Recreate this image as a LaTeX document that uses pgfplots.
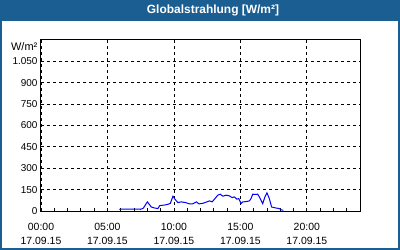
\documentclass[border=0pt]{standalone}
\usepackage{fontspec}
\setmainfont{Liberation Sans}
\usepackage{pgfplots}
\pgfplotsset{compat=1.18}
\definecolor{bar}{RGB}{27,94,146}
\begin{document}
\begin{tikzpicture}[x=1bp,y=1bp]
\fill[bar] (0,0) rectangle (400,250);
\fill[white] (2,2) rectangle (398,229);
\node[text=white, font=\fontsize{12}{14}\selectfont\bfseries] at (213,239.5) {Globalstrahlung [W/m²]};
\node[anchor=east, font=\fontsize{11}{12}\selectfont, inner sep=0pt] at (37.5,203) {W/m²};
\begin{axis}[at={(41bp,39bp)}, anchor=south west, scale only axis,
  width=319bp, height=171bp,
  xmin=0, xmax=24, ymin=0, ymax=1200,
  axis line style={black, line width=1bp},
  grid=major,
  major grid style={black, line width=0.8bp, dash pattern=on 3bp off 3bp},
  xtick={0,5,10,15,20},
  minor xtick={1,2,3,4,6,7,8,9,11,12,13,14,16,17,18,19,21,22,23},
  xticklabels={{00:00\\17.09.15},{05:00\\17.09.15},{10:00\\17.09.15},{15:00\\17.09.15},{20:00\\17.09.15}},
  xticklabel style={align=center, font=\fontsize{10.5}{14}\selectfont, yshift=-9bp},
  ytick={0,150,300,450,600,750,900,1050},
  yticklabels={0,150,300,450,600,750,900,{1.050}},
  yticklabel style={font=\fontsize{10}{12}\selectfont},
  /pgf/number format/assume math mode=true,
  tick style={black, line width=0.8bp},
  tick align=inside,
  major tick length=3bp, minor tick length=3bp,
  xtick pos=bottom, ytick pos=left,
]
\addplot[color={rgb,255:red,0;green,0;blue,255}, line width=1bp] coordinates {
(5.9,12)(6.5,14)(7.3,14)(7.5,12)(7.7,20)(8.0,64)(8.3,28)(8.55,21)(8.8,17)(8.93,38)(9.3,42)(9.55,47)(9.73,54)(9.93,104)(10.1,80)(10.3,59)(10.55,64)(10.88,59)(11.18,50)(11.4,50)(11.7,64)(11.88,50)(12.18,54)(12.48,64)(12.68,71)(12.88,64)(13.05,83)(13.3,111)(13.48,118)(13.68,104)(13.93,111)(14.18,106)(14.38,94)(14.55,99)(14.73,83)(14.88,87)(15.05,52)(15.18,64)(15.43,66)(15.68,71)(15.8,87)(15.93,118)(16.13,116)(16.3,118)(16.43,99)(16.68,52)(16.85,99)(17.0,127)(17.18,87)(17.35,28)(17.68,21)(17.93,17)(18.05,9)(18.23,5)
};
\end{axis}
\end{tikzpicture}
\end{document}
